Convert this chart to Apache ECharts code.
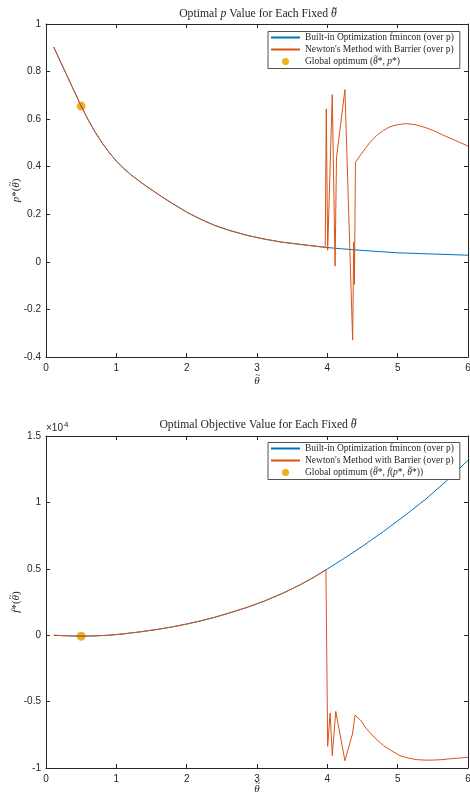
<!DOCTYPE html>
<html>
<head>
<meta charset="utf-8">
<script src="https://cdn.jsdelivr.net/npm/echarts@6/dist/echarts.min.js"></script>
<style>
  html, body { margin: 0; padding: 0; background: #fff; }
  #chart { width: 470px; height: 795px; }
</style>
</head>
<body>
<div id="chart"></div>
<script>
// top panel: optimal p for each theta
const thetaFminconP = [0.11, 0.2, 0.3, 0.4, 0.5, 0.6, 0.7, 0.8, 0.9, 1.0, 1.1, 1.2, 1.35, 1.5, 1.65, 1.8, 2.0, 2.2, 2.4, 2.6, 2.85, 3.1, 3.35, 3.6, 3.97, 4.2, 4.5, 5.0, 5.5, 6.0];
const pFmincon = [0.903, 0.845, 0.782, 0.718, 0.655, 0.597, 0.545, 0.499, 0.459, 0.424, 0.394, 0.368, 0.334, 0.303, 0.273, 0.245, 0.209, 0.179, 0.153, 0.133, 0.112, 0.096, 0.083, 0.074, 0.061, 0.055, 0.048, 0.038, 0.033, 0.028];
// newton follows fmincon up to theta = 3.97, then this tail
const thetaNewtonTailP = [3.985, 4.005, 4.07, 4.11, 4.13, 4.25, 4.36, 4.375, 4.385, 4.40, 4.45, 4.51, 4.6, 4.7, 4.8, 4.89, 5.0, 5.12, 5.25, 5.39, 5.5, 5.63, 5.8, 6.0];
const pNewtonTail = [0.643, 0.049, 0.703, -0.018, 0.437, 0.724, -0.329, 0.084, -0.095, 0.418, 0.44, 0.465, 0.50, 0.531, 0.553, 0.568, 0.577, 0.581, 0.577, 0.565, 0.553, 0.535, 0.513, 0.487];
const optTheta = 0.5;
const optP = 0.655;

// bottom panel: optimal objective value
const thetaFminconF = [0.11, 0.3, 0.5, 0.7, 0.9, 1.1, 1.35, 1.6, 1.8, 2.0, 2.2, 2.4, 2.6, 2.85, 3.1, 3.35, 3.6, 3.8, 3.98, 4.2, 4.5, 4.8, 5.1, 5.4, 5.7, 6.0];
const fFmincon = [-5, -45, -70, -50, 0, 100, 260, 450, 630, 840, 1080, 1350, 1660, 2080, 2560, 3120, 3760, 4340, 4920, 5650, 6700, 7820, 9000, 10250, 11650, 13170];
const thetaNewtonTailF = [4.005, 4.04, 4.07, 4.12, 4.25, 4.357, 4.395, 4.47, 4.56, 4.68, 4.8, 4.92, 5.03, 5.15, 5.27, 5.4, 5.51, 5.63, 5.75, 5.88, 6.0];
const fNewtonTail = [-8370, -5870, -9070, -5740, -9450, -7440, -6020, -6380, -7070, -7750, -8320, -8720, -9070, -9250, -9370, -9410, -9400, -9370, -9300, -9250, -9190];
const optF = -75;

const xTicks = { min: 0, max: 6, interval: 1 };
const pTicks = { min: -0.4, max: 1, interval: 0.2 };
const fTicks = { min: -10000, max: 15000, interval: 5000 };

const NAME_FMIN = 'Built-in Optimization fmincon (over p)';
const NAME_NEWTON = "Newton's Method with Barrier (over p)";
const NAME_OPT = 'Global optimum';

const BLUE = '#0072BD', ORANGE = '#D95319', YELLOW = '#EDB120', INK = '#262626';
const SERIF_FAM = '"Liberation Serif", serif';
const SANS = '"Liberation Sans", Arial, sans-serif';

function zip(xs, ys) { return xs.map((x, i) => [x, ys[i]]); }

const newtonP = zip(thetaFminconP, pFmincon).filter(d => d[0] <= 3.97).concat(zip(thetaNewtonTailP, pNewtonTail));
const newtonF = zip(thetaFminconF, fFmincon).filter(d => d[0] <= 3.98).concat(zip(thetaNewtonTailF, fNewtonTail));

// text measuring, used to put a tilde over each theta
const mctx = document.createElement('canvas').getContext('2d');
function font(size, italic) { return (italic ? 'italic ' : '') + size + 'px ' + SERIF_FAM; }
function tw(size, italic, s) { mctx.font = font(size, italic); return mctx.measureText(s).width; }
// parts: [text, italic]
function widthOf(size, parts) { return parts.reduce((a, p) => a + tw(size, p[1], p[0]), 0); }
function richOf(parts) { return parts.map(p => '{' + (p[1] ? 'i' : 'n') + '|' + p[0] + '}').join(''); }
function richStyles(size) {
  return {
    i: { fontFamily: SERIF_FAM, fontStyle: 'italic', fontSize: size, fill: INK },
    n: { fontFamily: SERIF_FAM, fontSize: size, fill: INK }
  };
}
function tilde(x, y, size) {
  return { type: 'text', x: x, y: y, z: 10,
    style: { text: '~', font: size + 'px ' + SERIF_FAM, fill: INK, align: 'center', verticalAlign: 'middle' } };
}
// centres (along the text) of every theta in parts, measured from the text start
function thetaCentres(size, parts) {
  const out = []; let x = 0;
  parts.forEach(p => {
    const w = tw(size, p[1], p[0]);
    if (p[0] === 'θ') out.push(x + w / 2 + 0.8);
    x += w;
  });
  return out;
}

// centred horizontal label with tildes
function hLabel(cx, cy, size, parts) {
  const W = widthOf(size, parts);
  const els = [{ type: 'text', x: cx, y: cy,
    style: { text: richOf(parts), rich: richStyles(size), align: 'center', verticalAlign: 'middle' } }];
  thetaCentres(size, parts).forEach(c => els.push(tilde(cx - W / 2 + c, cy - size * 0.5, size * 0.8)));
  return els;
}
// rotated (bottom to top) label with tildes
function vLabel(cx, cy, size, parts) {
  const W = widthOf(size, parts);
  const kids = [{ type: 'text', x: 0, y: 0,
    style: { text: richOf(parts), rich: richStyles(size), align: 'center', verticalAlign: 'middle' } }];
  thetaCentres(size, parts).forEach(c => kids.push(tilde(-W / 2 + c, -size * 0.5, size * 0.8)));
  return [{ type: 'group', x: cx, y: cy, rotation: Math.PI / 2, children: kids }];
}

const titleTop = [['Optimal ', 0], ['p', 1], [' Value for Each Fixed ', 0], ['θ', 1]];
const titleBottom = [['Optimal Objective Value for Each Fixed ', 0], ['θ', 1]];
const xName = [['θ', 1]];
const yNameTop = [['p', 1], ['*(', 0], ['θ', 1], [')', 0]];
const yNameBottom = [['f', 1], ['*(', 0], ['θ', 1], [')', 0]];
const optLabelTop = [['Global optimum (', 0], ['θ', 1], ['*, ', 0], ['p', 1], ['*)', 0]];
const optLabelBottom = [['Global optimum (', 0], ['θ', 1], ['*, ', 0], ['f', 1], ['(', 0], ['p', 1], ['*, ', 0], ['θ', 1], ['*))', 0]];

const LEG_SIZE = 9.5;
const LEG_LEFT = 268, LEG_PAD = [1, 6, 2, 3], LEG_ICON_W = 29;
const legRich = {
  i: { fontFamily: SERIF_FAM, fontStyle: 'italic', fontSize: LEG_SIZE, color: INK, lineHeight: 10 },
  n: { fontFamily: SERIF_FAM, fontSize: LEG_SIZE, color: INK, lineHeight: 10 }
};
const LINE_ICON = 'path://M0,0L29,0L29,2L0,2Z';

function legend(top, optParts) {
  return {
    orient: 'vertical', left: LEG_LEFT, top: top,
    data: [
      { name: NAME_FMIN, icon: LINE_ICON },
      { name: NAME_NEWTON, icon: LINE_ICON },
      { name: NAME_OPT, icon: 'circle' }
    ],
    symbolKeepAspect: true,
    backgroundColor: '#fff', borderColor: INK, borderWidth: 0.8,
    padding: LEG_PAD, itemGap: 2, itemWidth: LEG_ICON_W, itemHeight: 7,
    selectedMode: false,
    textStyle: { fontFamily: SERIF_FAM, fontSize: LEG_SIZE, color: INK, lineHeight: 10, rich: legRich },
    formatter: name => name === NAME_OPT ? richOf(optParts) : '{n|' + name + '}'
  };
}
// tildes over the thetas of the third legend row
function legendTildes(top, optParts) {
  const x0 = LEG_LEFT + LEG_PAD[3] + LEG_ICON_W + 5;
  const rowMid = top + LEG_PAD[0] + 2 * 12 + 5;
  return thetaCentres(LEG_SIZE, optParts).map(c => tilde(x0 + c, rowMid - 4.5, 7.5));
}

function xAxes(grid) {
  const base = {
    gridIndex: grid, type: 'value', min: xTicks.min, max: xTicks.max, interval: xTicks.interval,
    axisLine: { onZero: false, lineStyle: { color: INK, width: 1 } },
    axisTick: { inside: true, length: 4, lineStyle: { color: INK } },
    splitLine: { show: false }
  };
  return [
    Object.assign({}, base, { position: 'bottom', axisLabel: { color: INK, fontFamily: SANS, fontSize: 10, margin: 6 } }),
    Object.assign({}, base, { position: 'top', axisLabel: { show: false } })
  ];
}

function yAxes(grid, ticks, fmt) {
  const base = {
    gridIndex: grid, type: 'value', min: ticks.min, max: ticks.max, interval: ticks.interval,
    axisLine: { show: true, onZero: false, lineStyle: { color: INK, width: 1 } },
    axisTick: { show: true, inside: true, length: 4, lineStyle: { color: INK } },
    splitLine: { show: false }
  };
  return [
    Object.assign({}, base, { position: 'left', axisLabel: { color: INK, fontFamily: SANS, fontSize: 10, margin: 5, formatter: fmt } }),
    Object.assign({}, base, { position: 'right', axisLabel: { show: false } })
  ];
}

const TITLE_SIZE = 11.7;
const graphics = []
  .concat(hLabel(258, 14, TITLE_SIZE, titleTop))
  .concat(hLabel(258, 425, TITLE_SIZE, titleBottom))
  .concat(hLabel(257, 381, 11, xName))
  .concat(hLabel(257, 789, 11, xName))
  .concat(vLabel(16, 190.5, 11, yNameTop))
  .concat(vLabel(16, 602, 11, yNameBottom))
  .concat(legendTildes(31.5, optLabelTop))
  .concat(legendTildes(442.5, optLabelBottom))
  .concat([{
    type: 'text', left: 46, top: 421,
    style: {
      text: '×10{s|4}', fill: INK, font: '10px ' + SANS,
      rich: { s: { fontSize: 8, fontFamily: SANS, fill: INK, verticalAlign: 'top', padding: [0, 0, 6, 1] } }
    }
  }]);

const chart = echarts.init(document.getElementById('chart'));
chart.setOption({
  animation: false,
  backgroundColor: '#fff',
  graphic: graphics,
  grid: [
    { left: 46, right: 2, top: 24, height: 333, outerBoundsMode: 'none', containLabel: false },
    { left: 46, right: 2, top: 436, height: 332, outerBoundsMode: 'none', containLabel: false }
  ],
  legend: [legend(31.5, optLabelTop), legend(442.5, optLabelBottom)],
  xAxis: xAxes(0).concat(xAxes(1)),
  yAxis: yAxes(0, pTicks, v => String(+v.toFixed(1)))
    .concat(yAxes(1, fTicks, v => String(v / 10000))),
  series: [
    { name: NAME_FMIN, type: 'line', xAxisIndex: 0, yAxisIndex: 0, data: zip(thetaFminconP, pFmincon),
      symbol: 'none', lineStyle: { color: BLUE, width: 1 }, itemStyle: { color: BLUE } },
    { name: NAME_NEWTON, type: 'line', xAxisIndex: 0, yAxisIndex: 0, data: newtonP,
      symbol: 'none', lineStyle: { color: ORANGE, width: 1 }, itemStyle: { color: ORANGE } },
    { name: NAME_OPT, type: 'scatter', xAxisIndex: 0, yAxisIndex: 0, data: [[optTheta, optP]],
      symbolSize: 9, itemStyle: { color: YELLOW, opacity: 1 } },
    { name: NAME_FMIN, type: 'line', xAxisIndex: 2, yAxisIndex: 2, data: zip(thetaFminconF, fFmincon),
      symbol: 'none', lineStyle: { color: BLUE, width: 1 }, itemStyle: { color: BLUE } },
    { name: NAME_NEWTON, type: 'line', xAxisIndex: 2, yAxisIndex: 2, data: newtonF,
      symbol: 'none', lineStyle: { color: ORANGE, width: 1 }, itemStyle: { color: ORANGE } },
    { name: NAME_OPT, type: 'scatter', xAxisIndex: 2, yAxisIndex: 2, data: [[optTheta, optF]],
      symbolSize: 9, itemStyle: { color: YELLOW, opacity: 1 } }
  ]
});
</script>
</body>
</html>
